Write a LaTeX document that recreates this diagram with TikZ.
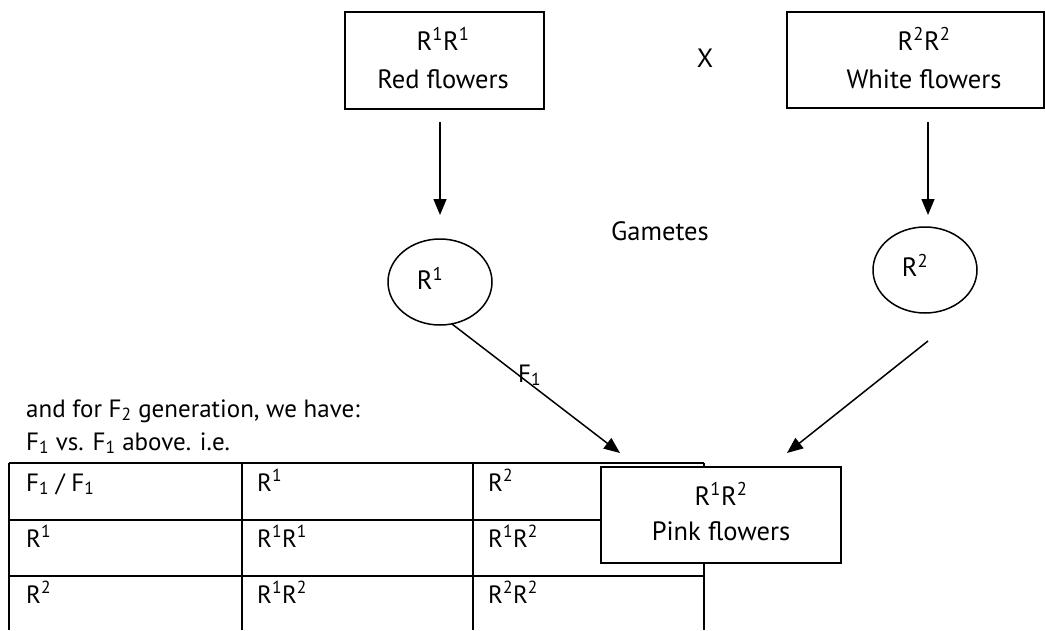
\documentclass[tikz,border=0pt]{standalone}
\usepackage{fontspec}
\setmainfont{PT Sans}
\usetikzlibrary{shapes.geometric,arrows.meta}
\begin{document}
\begin{tikzpicture}[x=1pt,y=-1pt,
  box/.style={draw,line width=1.7pt,fill=white,inner sep=0pt},
  gam/.style={draw,ellipse,line width=1.5pt,inner sep=0pt},
  arr/.style={line width=1.5pt,-{Triangle[length=16pt,width=13pt]}},
  tbl/.style={line width=1.9pt},
  lbl/.style={inner sep=0pt,font=\fontsize{25}{30}\selectfont},
  big/.style={inner sep=0pt,font=\fontsize{26.5}{32}\selectfont}]
\useasboundingbox (0,0) rectangle (1045,630);
% table
\draw[tbl] (9,463) -- (704,463) (9,520) -- (704,520) (9,576) -- (704,576);
\draw[tbl] (9,463) -- (9,630) (242,463) -- (242,630) (473,463) -- (473,630) (704,463) -- (704,630);
\node[lbl,anchor=base west] (t11) at (26,491) {F\textsubscript{1} / F\textsubscript{1}};
\node[lbl,anchor=base west] (t12) at (257,491) {R\textsuperscript{1}};
\node[lbl,anchor=base west] (t13) at (488,491) {R\textsuperscript{2}};
\node[lbl,anchor=base west] (t21) at (26,547) {R\textsuperscript{1}};
\node[lbl,anchor=base west] (t22) at (257,547) {R\textsuperscript{1}R\textsuperscript{1}};
\node[lbl,anchor=base west] (t23) at (488,547) {R\textsuperscript{1}R\textsuperscript{2}};
\node[lbl,anchor=base west] (t31) at (26,603) {R\textsuperscript{2}};
\node[lbl,anchor=base west] (t32) at (257,603) {R\textsuperscript{1}R\textsuperscript{2}};
\node[lbl,anchor=base west] (t33) at (488,603) {R\textsuperscript{2}R\textsuperscript{2}};
% boxes
\node[box,minimum width=199pt,minimum height=97pt] (red) at (444.5,60.5) {};
\node[big,anchor=base] (redt1) at (443,50) {R\textsuperscript{1}R\textsuperscript{1}};
\node[big,anchor=base] (redt2) at (443,88) {Red flowers};
\node[box,minimum width=257pt,minimum height=96pt] (white) at (915.5,60) {};
\node[big,anchor=base] (whitet1) at (924,50) {R\textsuperscript{2}R\textsuperscript{2}};
\node[big,anchor=base] (whitet2) at (924,88) {White flowers};
\node[big] (cross) at (705,58) {X};
% gametes
\node[gam,minimum width=104pt,minimum height=86pt] (g1) at (440,282) {};
\node[big] (g1t) at (430,278) {R\textsuperscript{1}};
\node[gam,minimum width=104pt,minimum height=86pt] (g2) at (925,270) {};
\node[big] (g2t) at (915,265) {R\textsuperscript{2}};
\node[big,anchor=base] (gam) at (660,240) {Gametes};
% arrows
\coordinate (a1s) at (440,122); \coordinate (a1e) at (440,215);
\coordinate (a2s) at (928,122); \coordinate (a2e) at (928,215);
\coordinate (a3s) at (452,324); \coordinate (a3e) at (620,453);
\coordinate (a4s) at (928,341); \coordinate (a4e) at (787,453);
\draw[arr] (a1s) -- (a1e);
\draw[arr] (a2s) -- (a2e);
\draw[arr] (a3s) -- (a3e);
\draw[arr] (a4s) -- (a4e);
\node[lbl,anchor=base west] (f1) at (518,382) {F\textsubscript{1}};
% pink
\node[box,minimum width=240pt,minimum height=96pt] (pink) at (721,515) {};
\node[big,anchor=base] (pinkt1) at (721,505) {R\textsuperscript{1}R\textsuperscript{2}};
\node[big,anchor=base] (pinkt2) at (721,540) {Pink flowers};
% text
\node[lbl,anchor=base west] (txt1) at (26,417) {and for F\textsubscript{2} generation, we have:};
\node[lbl,anchor=base west] (txt2) at (26,450) {F\textsubscript{1} vs. F\textsubscript{1} above. i.e.};
\end{tikzpicture}
\end{document}
